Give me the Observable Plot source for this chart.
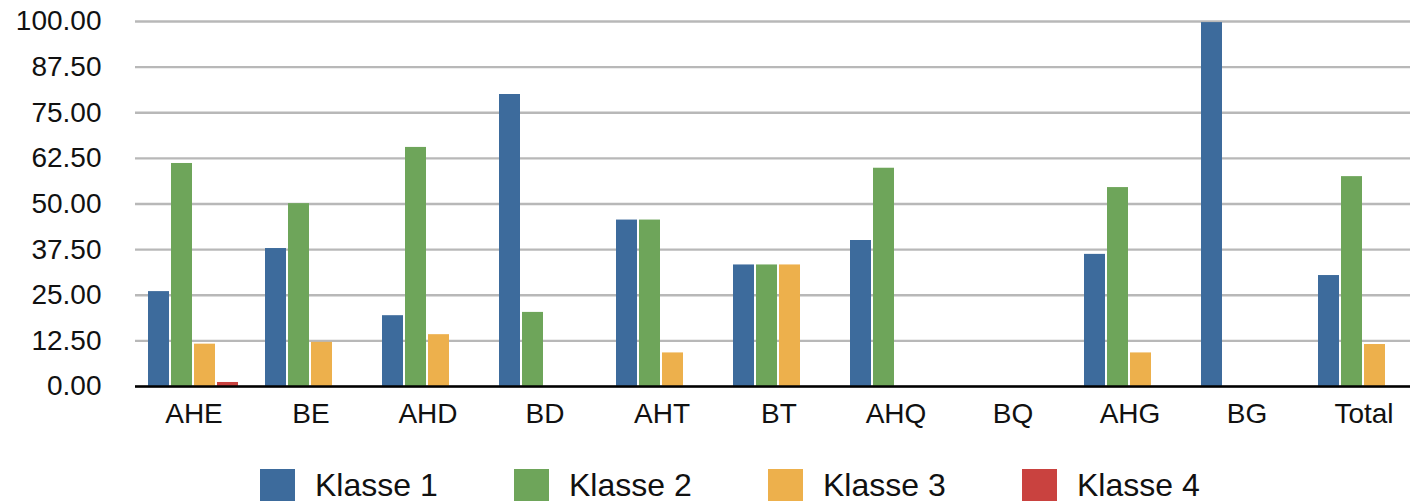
<!DOCTYPE html>
<html>
<head>
<meta charset="utf-8">
<script src="https://cdn.jsdelivr.net/npm/d3@7"></script>
<script src="https://cdn.jsdelivr.net/npm/@observablehq/plot@0.6"></script>
<style>
  html, body { margin: 0; padding: 0; background: #fff; overflow: hidden; }
  body { font-family: "Liberation Sans", Arial, Helvetica, sans-serif; width: 1410px; }
  #legend { display: flex; padding-left: 260px; padding-top: 27px; height: 36px; }
  .item { display: flex; align-items: center; width: 254px; }
  .sw { width: 35px; height: 32px; margin-right: 20px; flex: none; }
  .lb { font-size: 32px; color: #111; line-height: 32px; }
</style>
</head>
<body>
<div id="chart"></div>
<div id="legend"></div>
<script>
const categories = ["AHE", "BE", "AHD", "BD", "AHT", "BT", "AHQ", "BQ", "AHG", "BG", "Total"];
const classes = ["Klasse 1", "Klasse 2", "Klasse 3", "Klasse 4"];
const klasse1 = [26.0, 37.8, 19.4, 80.0, 45.6, 33.3, 40.0, 0, 36.2, 99.7, 30.4];
const klasse2 = [61.1, 50.1, 65.5, 20.3, 45.6, 33.3, 59.8, 0, 54.5, 0, 57.5];
const klasse3 = [11.6, 12.1, 14.2, 0, 9.2, 33.3, 0, 0, 9.2, 0, 11.5];
const klasse4 = [1.1, 0, 0, 0, 0, 0, 0, 0, 0, 0, 0];
const colors = ["#3D6B9C", "#6EA55A", "#EDB04C", "#C9423F"];
const yTicks = [0, 12.5, 25, 37.5, 50, 62.5, 75, 87.5, 100];

const series = [klasse1, klasse2, klasse3, klasse4];
const rows = [];
categories.forEach((cat, i) => {
  classes.forEach((cls, k) => {
    rows.push({category: cat, klasse: cls, value: series[k][i]});
  });
});

const chart = Plot.plot({
  width: 1410,
  height: 440,
  marginTop: 21,
  marginBottom: 54,
  marginLeft: 134,
  marginRight: 0,
  style: {fontFamily: '"Liberation Sans", Arial, Helvetica, sans-serif', fontSize: "28px", color: "#111", background: "#fff", overflow: "visible"},
  fx: {domain: categories, range: [134, 1422], padding: 0, label: null, tickSize: 0, tickPadding: 17},
  x: {domain: classes, axis: null, paddingInner: 0.083, paddingOuter: 0.48},
  y: {domain: [0, 100], ticks: yTicks, tickFormat: d3.format(".2f"), tickSize: 0, tickPadding: 34, label: null},
  color: {domain: classes, range: colors},
  marks: [
    Plot.gridY(yTicks, {stroke: "#b8b8b8", strokeOpacity: 1, strokeWidth: 2.4}),
    Plot.barY(rows, {fx: "category", x: "klasse", y: "value", fill: "klasse"}),
    Plot.ruleY([0], {stroke: "#000", strokeWidth: 2.5})
  ]
});
document.getElementById("chart").appendChild(chart);

const legend = document.getElementById("legend");
classes.forEach((cls, k) => {
  const item = document.createElement("div");
  item.className = "item";
  const sw = document.createElement("div");
  sw.className = "sw";
  sw.style.background = colors[k];
  const lb = document.createElement("span");
  lb.className = "lb";
  lb.textContent = cls;
  item.appendChild(sw);
  item.appendChild(lb);
  legend.appendChild(item);
});
</script>
</body>
</html>
